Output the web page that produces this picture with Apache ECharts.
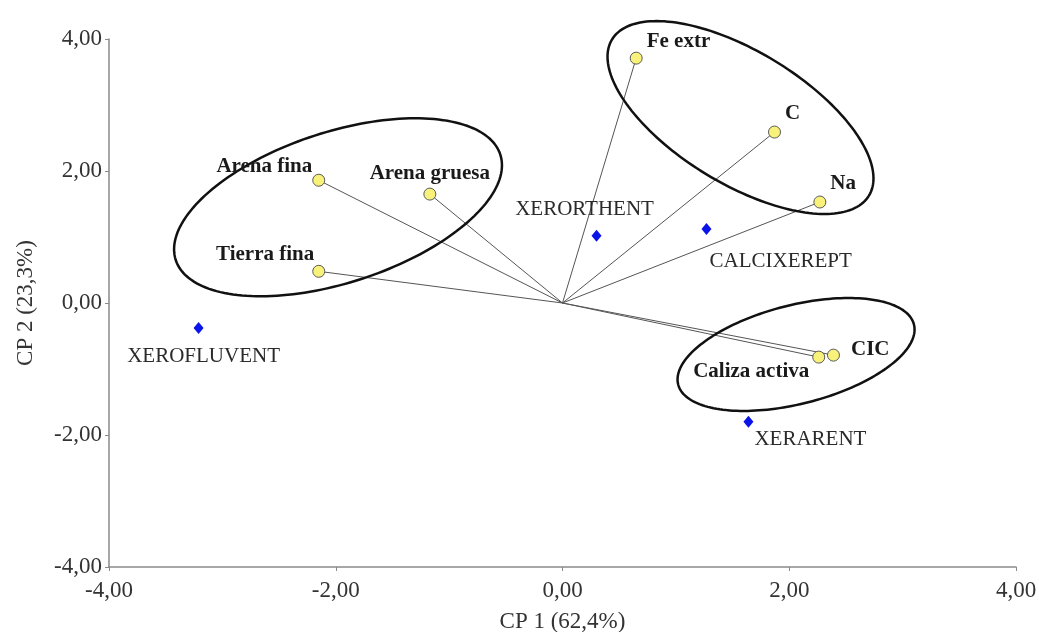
<!DOCTYPE html>
<html>
<head>
<meta charset="utf-8">
<script src="https://cdn.jsdelivr.net/npm/echarts@6/dist/echarts.min.js"></script>
<style>
  html, body { margin: 0; padding: 0; background: #fff; }
  #chart { width: 1039px; height: 632px; }
</style>
</head>
<body>
<div id="chart"></div>
<script>
// Soil variables (loadings on CP 1 / CP 2)
const varNames = ['Fe extr', 'C', 'Na', 'Arena fina', 'Arena gruesa', 'Tierra fina', 'CIC', 'Caliza activa'];
const varX = [0.65, 1.87, 2.27, -2.15, -1.17, -2.15, 2.39, 2.26];
const varY = [3.71, 2.59, 1.53, 1.86, 1.65, 0.48, -0.79, -0.82];

// Soil groups (scores)
const soilNames = ['XERORTHENT', 'CALCIXEREPT', 'XEROFLUVENT', 'XERARENT'];
const soilX = [0.30, 1.27, -3.21, 1.64];
const soilY = [1.02, 1.12, -0.38, -1.80];

// Variable groupings: centre (data units), semi-axes (CP 1 units), tilt (deg)
const groupCx = [-1.98, 1.57, 2.06];
const groupCy = [1.45, 2.81, -0.78];
const groupA = [1.505, 1.326, 1.073];
const groupB = [0.665, 0.584, 0.435];
const groupTilt = [-18, 31.3, -14.3];

// Axis ticks
const axisMin = -4, axisMax = 4, axisStep = 2;

const serif = '"Liberation Serif", "DejaVu Serif", serif';
const fmt = v => v.toFixed(2).replace('.', ',');

// label placement for each variable
const varLabel = {
  'Fe extr':       { position: 'right', distance: 4, offset: [0, -17] },
  'C':             { position: 'right', distance: 4, offset: [0, -18] },
  'Na':            { position: 'right', distance: 4, offset: [0, -18] },
  'Arena fina':    { position: 'left', distance: 0, offset: [0, -14] },
  'Arena gruesa':  { position: 'top', distance: 4, offset: [0, 0] },
  'Tierra fina':   { position: 'left', distance: 0, offset: [2, -17] },
  'CIC':           { position: 'right', distance: 11, offset: [0, -6] },
  'Caliza activa': { position: 'left', distance: 3, offset: [0, 14] }
};
const soilLabel = {
  'XERORTHENT':  { position: 'top', distance: 10, offset: [-12, 0] },
  'CALCIXEREPT': { position: 'bottom', distance: 16, align: 'left', offset: [3, 0] },
  'XEROFLUVENT': { position: 'bottom', distance: 12, offset: [5, 0] },
  'XERARENT':    { position: 'bottom', distance: 1, align: 'left', offset: [6, 0] }
};

const chart = echarts.init(document.getElementById('chart'));

const axisCommon = {
  type: 'value',
  min: axisMin,
  max: axisMax,
  interval: axisStep,
  splitLine: { show: false },
  axisLine: { onZero: false, lineStyle: { color: '#8a8a8a', width: 1.5 } },
  axisTick: { show: true, length: 4, lineStyle: { color: '#8a8a8a' } },
  axisLabel: { formatter: fmt, fontFamily: serif, fontSize: 23, color: '#333' },
  nameLocation: 'middle',
  nameTextStyle: { fontFamily: serif, fontSize: 23, color: '#333' }
};

chart.setOption({
  animation: false,
  backgroundColor: '#fff',
  grid: { left: 109, right: 23, top: 39, bottom: 65, containLabel: false, outerBoundsMode: 'none' },
  xAxis: Object.assign({}, axisCommon, {
    name: 'CP 1 (62,4%)',
    nameGap: 43,
    axisLabel: Object.assign({}, axisCommon.axisLabel, { margin: 12 })
  }),
  yAxis: Object.assign({}, axisCommon, {
    name: 'CP 2 (23,3%)',
    nameGap: 72,
    axisLabel: Object.assign({}, axisCommon.axisLabel, { margin: 7 })
  }),
  series: [
    {
      // vectors from the origin to each variable
      type: 'lines',
      coordinateSystem: 'cartesian2d',
      silent: true,
      z: 1,
      lineStyle: { color: '#555', width: 1, opacity: 1 },
      data: varNames.map((n, i) => ({ coords: [[0, 0], [varX[i], varY[i]]] }))
    },
    {
      // group outlines
      type: 'custom',
      silent: true,
      z: 2,
      data: groupCx.map((c, i) => [c, groupCy[i], groupA[i], groupB[i], groupTilt[i]]),
      encode: { x: 0, y: 1 },
      renderItem: function (params, api) {
        const c = api.coord([api.value(0), api.value(1)]);
        const unit = api.size([1, 0])[0];
        const a = api.value(2) * unit;
        const b = api.value(3) * unit;
        const th = api.value(4) * Math.PI / 180;
        const pts = [];
        for (let k = 0; k < 180; k++) {
          const t = k / 180 * Math.PI * 2;
          const ex = a * Math.cos(t), ey = b * Math.sin(t);
          pts.push([c[0] + ex * Math.cos(th) - ey * Math.sin(th),
                    c[1] + ex * Math.sin(th) + ey * Math.cos(th)]);
        }
        return {
          type: 'polygon',
          shape: { points: pts },
          style: { fill: 'none', stroke: '#111', lineWidth: 2.5 }
        };
      }
    },
    {
      type: 'scatter',
      z: 3,
      symbol: 'circle',
      symbolSize: 12,
      itemStyle: { color: '#f8f27a', borderColor: '#5a5a5a', borderWidth: 1, opacity: 1 },
      label: {
        show: true,
        formatter: '{b}',
        fontFamily: serif,
        fontWeight: 'bold',
        fontSize: 21,
        color: '#1a1a1a'
      },
      data: varNames.map((n, i) => ({
        name: n,
        value: [varX[i], varY[i]],
        label: varLabel[n]
      }))
    },
    {
      type: 'scatter',
      z: 3,
      symbol: 'diamond',
      symbolSize: [10, 12],
      itemStyle: { color: '#0a14e8', opacity: 1 },
      label: {
        show: true,
        formatter: '{b}',
        fontFamily: serif,
        fontSize: 21,
        color: '#2a2a2a'
      },
      data: soilNames.map((n, i) => ({
        name: n,
        value: [soilX[i], soilY[i]],
        label: soilLabel[n]
      }))
    }
  ]
});
</script>
</body>
</html>
